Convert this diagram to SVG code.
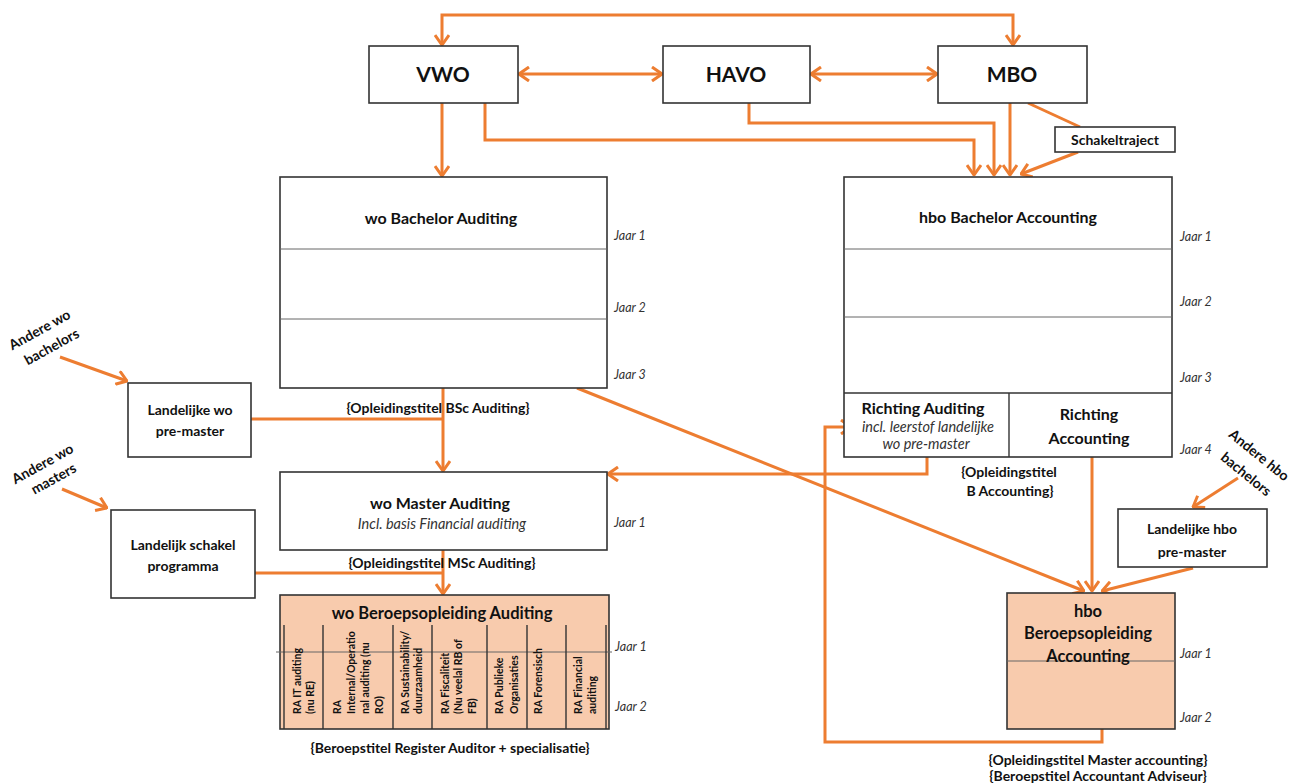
<svg xmlns="http://www.w3.org/2000/svg" width="1299" height="784" viewBox="0 0 1299 784">
<defs>
<style>
.box{fill:#fff;stroke:#333;stroke-width:1.6}
.peach{fill:#F8CBAD;stroke:#333;stroke-width:1.6}
.thin{stroke:#666;stroke-width:1;fill:none}
.div{stroke:#333;stroke-width:1.4;fill:none}
.c{fill:none;stroke:#ED7D31;stroke-width:3}
text{font-family:Lato,"Open Sans","Liberation Sans",sans-serif;fill:#111}
.big{font-size:21px;font-weight:700;text-anchor:middle}
.t{font-size:16px;font-weight:700;text-anchor:middle}
.b{font-size:14px;font-weight:700;text-anchor:middle}
.s{font-size:14px;font-weight:700;text-anchor:middle}
.i{font-size:14.5px;font-style:italic;text-anchor:middle;fill:#333}
.j{font-size:12.5px;font-style:italic;fill:#333}
.r{font-size:10.5px;font-weight:700}
</style>
<marker id="ah" viewBox="0 0 12 16" refX="11" refY="8" markerWidth="12" markerHeight="16" markerUnits="userSpaceOnUse" orient="auto-start-reverse">
<path d="M1,1 L11,8 L1,15" fill="none" stroke="#ED7D31" stroke-width="3"/>
</marker>
</defs>

<g id="connectors">
<path class="c" d="M442,45 V15 H1013 V45" marker-start="url(#ah)" marker-end="url(#ah)"/>
<path class="c" d="M519,74 H662" marker-start="url(#ah)" marker-end="url(#ah)"/>
<path class="c" d="M811,74 H937" marker-start="url(#ah)" marker-end="url(#ah)"/>
<path class="c" d="M442,103 V176" marker-end="url(#ah)"/>
<path class="c" d="M485,103 V140 H974 V175" marker-end="url(#ah)"/>
<path class="c" d="M749,103 V123 H994 V175" marker-end="url(#ah)"/>
<path class="c" d="M1010,103 V175" marker-end="url(#ah)"/>
<path class="c" d="M1028,103 L1080,127"/>
<path class="c" d="M1078,152 L1021,174" marker-end="url(#ah)"/>
<path class="c" d="M443,388 V471" marker-end="url(#ah)"/>
<path class="c" d="M251,419 H443"/>
<path class="c" d="M577,388 L1084,591" marker-end="url(#ah)"/>
<path class="c" d="M927,457 V474 H608" marker-end="url(#ah)"/>
<path class="c" d="M443,550 V594" marker-end="url(#ah)"/>
<path class="c" d="M255,573 H443"/>
<path class="c" d="M1092,457 V591" marker-end="url(#ah)"/>
<path class="c" d="M1193,568 L1102,591" marker-end="url(#ah)"/>
<path class="c" d="M1102,729 V742 H825 V427 H851" marker-end="url(#ah)"/>
<path class="c" d="M60,357 L127,381" marker-end="url(#ah)"/>
<path class="c" d="M62,489 L107,508" marker-end="url(#ah)"/>
<path class="c" d="M1238,478 L1193,507" marker-end="url(#ah)"/>
</g>

<g id="vwo">
<rect class="box" x="369" y="46" width="149" height="57"/>
<text class="big" x="443" y="82">VWO</text>
</g>
<g id="havo">
<rect class="box" x="663" y="46" width="147" height="57"/>
<text class="big" x="736" y="82">HAVO</text>
</g>
<g id="mbo">
<rect class="box" x="938" y="46" width="149" height="57"/>
<text class="big" x="1012" y="82">MBO</text>
</g>
<g id="schakeltraject">
<rect class="box" x="1055" y="127" width="120" height="25"/>
<text class="s" x="1115" y="145">Schakeltraject</text>
</g>

<g id="wo-bachelor">
<rect class="box" x="280" y="177" width="327" height="211"/>
<line class="thin" x1="280" y1="249" x2="607" y2="249"/>
<line class="thin" x1="280" y1="319" x2="607" y2="319"/>
<text class="t" x="441" y="224">wo Bachelor Auditing</text>
<text class="j" x="614" y="240">Jaar 1</text>
<text class="j" x="614" y="312">Jaar 2</text>
<text class="j" x="614" y="379">Jaar 3</text>
<text class="b" x="438" y="413">{Opleidingstitel BSc Auditing}</text>
</g>

<g id="hbo-bachelor">
<rect class="box" x="844" y="177" width="328" height="280"/>
<line class="thin" x1="844" y1="249" x2="1172" y2="249"/>
<line class="thin" x1="844" y1="317" x2="1172" y2="317"/>
<line class="div" x1="844" y1="393" x2="1172" y2="393"/>
<line class="div" x1="1009" y1="393" x2="1009" y2="457"/>
<text class="t" x="1008" y="223">hbo Bachelor Accounting</text>
<text class="j" x="1180" y="241">Jaar 1</text>
<text class="j" x="1180" y="306">Jaar 2</text>
<text class="j" x="1180" y="382">Jaar 3</text>
<text class="j" x="1180" y="454">Jaar 4</text>
<text class="t" x="923" y="414">Richting Auditing</text>
<text class="i" x="928" y="432">incl. leerstof landelijke</text>
<text class="i" x="926" y="449">wo pre-master</text>
<text class="t" x="1089" y="420">Richting</text>
<text class="t" x="1089" y="444">Accounting</text>
<text class="b" x="1009" y="477">{Opleidingstitel</text>
<text class="b" x="1010" y="496">B Accounting}</text>
</g>

<g id="wo-premaster">
<rect class="box" x="128" y="383" width="123" height="74"/>
<text class="b" x="190" y="415">Landelijke wo</text>
<text class="b" x="190" y="436">pre-master</text>
</g>
<g id="andere-wo-bachelors">
<text class="b" transform="translate(42,334) rotate(-29)" x="0" y="0">Andere wo</text>
<text class="b" transform="translate(54,351) rotate(-29)" x="0" y="0">bachelors</text>
</g>

<g id="wo-master">
<rect class="box" x="280" y="472" width="327" height="78"/>
<text class="t" x="440" y="509">wo Master Auditing</text>
<text class="i" x="442" y="529">Incl. basis Financial auditing</text>
<text class="j" x="614" y="527">Jaar 1</text>
<text class="b" x="442" y="568">{Opleidingstitel MSc Auditing}</text>
</g>

<g id="schakel-programma">
<rect class="box" x="111" y="510" width="144" height="88"/>
<text class="b" x="183" y="550">Landelijk schakel</text>
<text class="b" x="183" y="571">programma</text>
</g>
<g id="andere-wo-masters">
<text class="b" transform="translate(45,468) rotate(-29)" x="0" y="0">Andere wo</text>
<text class="b" transform="translate(56,483) rotate(-29)" x="0" y="0">masters</text>
</g>

<g id="wo-beroepsopleiding">
<rect class="peach" x="280" y="595" width="329" height="134"/>
<line class="thin" x1="276" y1="652" x2="612" y2="652"/>
<g class="div">
<line x1="284" y1="625" x2="284" y2="729"/>
<line x1="323" y1="625" x2="323" y2="729"/>
<line x1="393" y1="625" x2="393" y2="729"/>
<line x1="432" y1="625" x2="432" y2="729"/>
<line x1="487" y1="625" x2="487" y2="729"/>
<line x1="527" y1="625" x2="527" y2="729"/>
<line x1="566" y1="625" x2="566" y2="729"/>
<line x1="606" y1="625" x2="606" y2="729"/>
</g>
<text class="t" x="442" y="619" style="font-size:16.5px">wo Beroepsopleiding Auditing</text>
<text class="r" transform="translate(301,714) rotate(-90)"><tspan x="0" y="0">RA IT auditing</tspan><tspan x="0" y="13">(nu RE)</tspan></text>
<text class="r" transform="translate(341,714) rotate(-90)"><tspan x="0" y="0">RA</tspan><tspan x="0" y="14">Internal/Operatio</tspan><tspan x="0" y="28">nal auditing (nu</tspan><tspan x="0" y="42">RO)</tspan></text>
<text class="r" transform="translate(409,714) rotate(-90)"><tspan x="0" y="0">RA Sustainability/</tspan><tspan x="0" y="13">duurzaamheid</tspan></text>
<text class="r" transform="translate(449,714) rotate(-90)"><tspan x="0" y="0">RA Fiscaliteit</tspan><tspan x="0" y="13">(Nu veelal RB of</tspan><tspan x="0" y="27">FB)</tspan></text>
<text class="r" transform="translate(503,714) rotate(-90)"><tspan x="0" y="0">RA Publieke</tspan><tspan x="0" y="15">Organisaties</tspan></text>
<text class="r" transform="translate(542,714) rotate(-90)"><tspan x="0" y="0">RA Forensisch</tspan></text>
<text class="r" transform="translate(582,714) rotate(-90)"><tspan x="0" y="0">RA Financial</tspan><tspan x="0" y="14">auditing</tspan></text>
<text class="j" x="615" y="651">Jaar 1</text>
<text class="j" x="615" y="711">Jaar 2</text>
<text class="b" x="450" y="753">{Beroepstitel Register Auditor + specialisatie}</text>
</g>

<g id="hbo-premaster">
<rect class="box" x="1118" y="509" width="149" height="58"/>
<text class="b" x="1192" y="534">Landelijke hbo</text>
<text class="b" x="1192" y="557">pre-master</text>
</g>
<g id="andere-hbo-bachelors">
<text class="b" transform="translate(1256,459) rotate(39)" x="0" y="0">Andere hbo</text>
<text class="b" transform="translate(1243,478) rotate(39)" x="0" y="0">bachelors</text>
</g>

<g id="hbo-beroepsopleiding">
<rect class="peach" x="1007" y="593" width="168" height="136"/>
<line class="thin" x1="1007" y1="661" x2="1175" y2="661"/>
<text class="t" x="1088" y="617" style="font-size:16.5px">hbo</text>
<text class="t" x="1088" y="639" style="font-size:16.5px">Beroepsopleiding</text>
<text class="t" x="1088" y="662" style="font-size:16.5px">Accounting</text>
<text class="j" x="1180" y="658">Jaar 1</text>
<text class="j" x="1180" y="722">Jaar 2</text>
<text class="b" x="1098" y="765">{Opleidingstitel Master accounting}</text>
<text class="b" x="1098" y="781">{Beroepstitel Accountant Adviseur}</text>
</g>
</svg>
